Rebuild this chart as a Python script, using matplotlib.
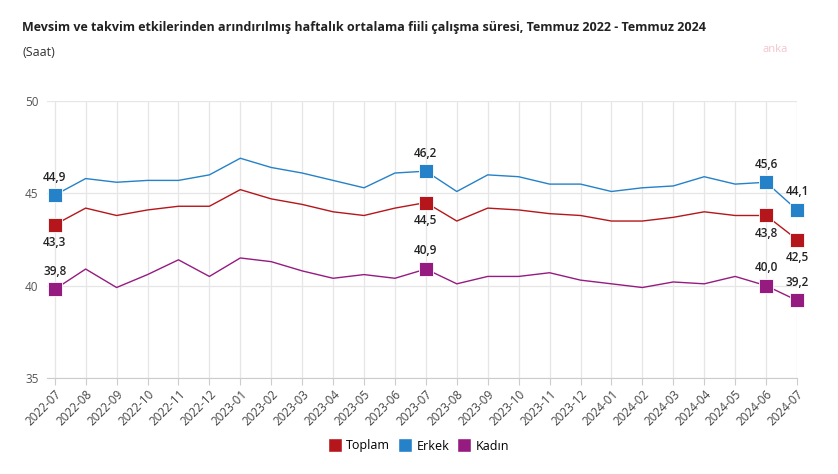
import matplotlib
matplotlib.use("Agg")
import matplotlib.pyplot as plt
from matplotlib.lines import Line2D

plt.rcParams['font.family'] = ['Open Sans', 'DejaVu Sans']

# Data (hours, seasonally and calendar adjusted)
months = ["2022-07", "2022-08", "2022-09", "2022-10", "2022-11", "2022-12",
          "2023-01", "2023-02", "2023-03", "2023-04", "2023-05", "2023-06",
          "2023-07", "2023-08", "2023-09", "2023-10", "2023-11", "2023-12",
          "2024-01", "2024-02", "2024-03", "2024-04", "2024-05", "2024-06",
          "2024-07"]
toplam = [43.3, 44.2, 43.8, 44.1, 44.3, 44.3, 45.2, 44.7, 44.4, 44.0, 43.8, 44.2,
          44.5, 43.5, 44.2, 44.1, 43.9, 43.8, 43.5, 43.5, 43.7, 44.0, 43.8, 43.8,
          42.5]
erkek = [44.9, 45.8, 45.6, 45.7, 45.7, 46.0, 46.9, 46.4, 46.1, 45.7, 45.3, 46.1,
         46.2, 45.1, 46.0, 45.9, 45.5, 45.5, 45.1, 45.3, 45.4, 45.9, 45.5, 45.6,
         44.1]
kadin = [39.8, 40.9, 39.9, 40.6, 41.4, 40.5, 41.5, 41.3, 40.8, 40.4, 40.6, 40.4,
         40.9, 40.1, 40.5, 40.5, 40.7, 40.3, 40.1, 39.9, 40.2, 40.1, 40.5, 40.0,
         39.2]
marked = [0, 12, 23, 24]

series = [
    ("Toplam", toplam, "#b5161b", "below"),
    ("Erkek", erkek, "#2581c8", "above"),
    ("Kadın", kadin, "#951b81", "above"),
]

fig = plt.figure(figsize=(8.38, 4.74), dpi=100)
ax = fig.add_axes([47 / 838, 1 - 378 / 474, 750 / 838, 277 / 474])

x = list(range(len(months)))
for name, vals, color, pos in series:
    ax.plot(x, vals, color=color, lw=1.0, zorder=3)
    ax.plot([x[i] for i in marked], [vals[i] for i in marked], ls="none",
            marker="s", ms=9.5, color=color, mec="white", mew=0.6, zorder=4,
            clip_on=False)
    for i in marked:
        txt = f"{vals[i]:.1f}".replace(".", ",")
        dy = 13 if pos == "above" else -13
        ax.annotate(txt, (x[i], vals[i]), xytext=(0, dy), textcoords="offset points",
                    ha="center", va="center", fontsize=8.5, color="#222222",
                    fontweight="semibold", zorder=5)

ax.set_xlim(-0.25, 24)
ax.set_ylim(35, 50)
ax.set_yticks([35, 40, 45, 50])
ax.set_xticks(x)
ax.set_xticklabels(months, rotation=45, ha="right", rotation_mode="anchor")
ax.tick_params(axis="x", length=5, color="#cccccc", labelsize=8.5, labelcolor="#444444", pad=2)
ax.tick_params(axis="y", length=0, labelsize=8.5, labelcolor="#555555", pad=6)

ax.grid(True, color="#e6e6e6", lw=0.9, zorder=0)
for s in ["top", "right", "left"]:
    ax.spines[s].set_visible(False)
ax.spines["bottom"].set_color("#cccccc")

fig.text(22 / 838, 1 - 28 / 474, "Mevsim ve takvim etkilerinden arındırılmış haftalık ortalama fiili çalışma süresi, Temmuz 2022 - Temmuz 2024",
         fontsize=9.0, fontweight="bold", color="#222222", va="center", ha="left")
fig.text(22 / 838, 1 - 52 / 474, "(Saat)", fontsize=9, color="#333333", va="center", ha="left")
fig.text(775 / 838, 1 - 50 / 474, "anka", fontsize=8, color="#f4c4cc", va="center", ha="center")

handles = [Line2D([], [], ls="none", marker="s", ms=10, color=c, mec="white")
           for _, _, c, _ in series]
fig.legend(handles, [s[0] for s in series], loc="center", bbox_to_anchor=(0.5, 1 - 446 / 474),
           ncol=3, frameon=False, fontsize=9, handletextpad=0.4, columnspacing=0.7,
           handlelength=1.0)

fig.savefig("out.png", dpi=100)
